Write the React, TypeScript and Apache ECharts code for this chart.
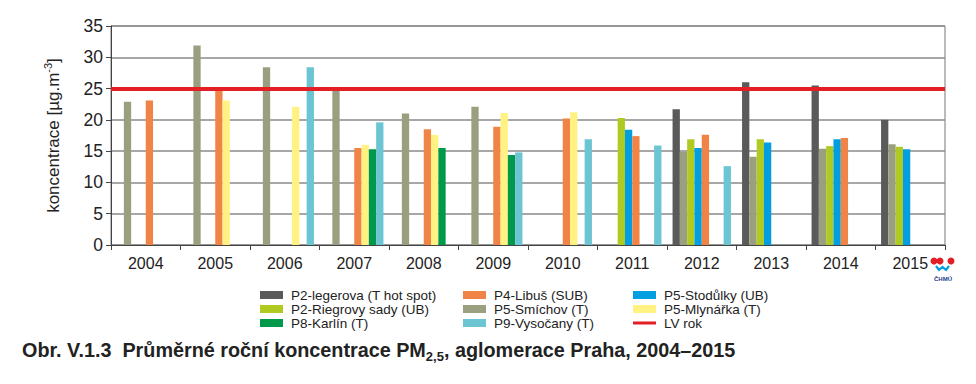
import React, { useEffect, useRef } from "react";
import * as echarts from "echarts";

const years = ["2004", "2005", "2006", "2007", "2008", "2009", "2010", "2011", "2012", "2013", "2014", "2015"];

const legerova = [null, null, null, null, null, null, null, null, 21.7, 26.0, 25.5, 20.0];
const smichov = [22.9, 31.9, 28.4, 24.6, 21.0, 22.1, null, null, 14.9, 14.1, 15.4, 16.1];
const riegrovy = [null, null, null, null, null, null, null, 20.3, 16.9, 16.9, 15.8, 15.7];
const stodulky = [null, null, null, null, null, null, null, 18.4, 15.5, 16.4, 16.9, 15.3];
const libus = [23.1, 24.6, null, 15.5, 18.5, 18.9, 20.2, 17.4, 17.6, null, 17.1, null];
const mlynarka = [null, 23.1, 22.1, 16.0, 17.6, 21.1, 21.2, null, null, null, null, null];
const karlin = [null, null, null, 15.3, 15.5, 14.4, null, null, null, null, null, null];
const vysocany = [null, null, 28.4, 19.6, null, 14.8, 16.9, 15.9, 12.6, null, null, null];
const limitValue = 25;

const seriesDefs = [
  { name: "P2-legerova (T hot spot)", data: legerova, color: "#5a5a5a" },
  { name: "P5-Smíchov (T)", data: smichov, color: "#9aa07f" },
  { name: "P2-Riegrovy sady (UB)", data: riegrovy, color: "#b1ca22" },
  { name: "P5-Stodůlky (UB)", data: stodulky, color: "#019fe0" },
  { name: "P4-Libuš (SUB)", data: libus, color: "#f08446" },
  { name: "P5-Mlynářka (T)", data: mlynarka, color: "#fff283" },
  { name: "P8-Karlín (T)", data: karlin, color: "#00994b" },
  { name: "P9-Vysočany (T)", data: vysocany, color: "#6bc5d2" },
];

const legendCols = [
  ["P2-legerova (T hot spot)", "P2-Riegrovy sady (UB)", "P8-Karlín (T)"],
  ["P4-Libuš (SUB)", "P5-Smíchov (T)", "P9-Vysočany (T)"],
  ["P5-Stodůlky (UB)", "P5-Mlynářka (T)", "LV rok"],
];
const legendLefts = [260, 463, 633];

const FONT = "Liberation Sans, Arial, sans-serif";

export default function App() {
  const ref = useRef<HTMLDivElement>(null);
  useEffect(() => {
    if (!ref.current) return;
    const chart = echarts.init(ref.current, null, { renderer: "svg" });
    const series: any[] = seriesDefs.map((s) => ({
      name: s.name,
      type: "bar",
      data: s.data,
      barGap: "0%",
      barCategoryGap: "16%",
      itemStyle: { color: s.color },
    }));
    series.push({
      name: "LV rok",
      type: "line",
      data: [],
      color: "#e31e24",
      itemStyle: { color: "#e31e24" },
      markLine: {
        silent: true,
        symbol: "none",
        label: { show: false },
        lineStyle: { color: "#e31e24", width: 4, type: "solid" },
        data: [{ yAxis: limitValue }],
      },
    });
    const legends = legendCols.map((col, i) => ({
      orient: "vertical",
      left: legendLefts[i],
      top: 288,
      padding: 0,
      itemGap: 0,
      itemWidth: 23,
      itemHeight: 8,
      data: col.map((n) =>
        n === "LV rok" ? { name: n, icon: "path://M0 0H23V3H0Z" } : { name: n, icon: "rect" }
      ),
      textStyle: { fontFamily: FONT, fontSize: 13.5, color: "#222", lineHeight: 14, padding: [0, 0, 0, 3] },
    }));
    chart.setOption({
      animation: false,
      textStyle: { fontFamily: FONT },
      title: {
        left: 22,
        top: 337,
        padding: 0,
        text: "{b|Obr. V.1.3  Průměrné roční koncentrace PM}{s|2,5}{b|, aglomerace Praha, 2004–2015}",
        textStyle: {
          rich: {
            b: { fontFamily: FONT, fontSize: 19.8, fontWeight: "bold", color: "#222", lineHeight: 26 },
            s: { fontFamily: FONT, fontSize: 13, fontWeight: "bold", color: "#222", verticalAlign: "bottom", lineHeight: 17 },
          },
        },
      },
      legend: legends,
      grid: {
        left: 111,
        right: 31,
        top: 26,
        bottom: 139,
        show: true,
        borderColor: "#777",
        borderWidth: 1,
      },
      xAxis: {
        type: "category",
        data: years,
        axisLine: { lineStyle: { color: "#444", width: 1 } },
        axisTick: { show: true, length: 5, lineStyle: { color: "#444" } },
        axisLabel: { fontSize: 16, color: "#222", margin: 10, fontFamily: FONT },
      },
      yAxis: {
        type: "value",
        min: 0,
        max: 35,
        interval: 5,
        name: "koncentrace [µg.m{sup|-3}]",
        nameLocation: "middle",
        nameGap: 47,
        nameTextStyle: {
          fontSize: 17,
          color: "#222",
          fontFamily: FONT,
          rich: {
            sup: { fontSize: 11, color: "#222", fontFamily: FONT, verticalAlign: "top", lineHeight: 22 },
          },
        },
        axisLine: { show: true, lineStyle: { color: "#444", width: 1 } },
        axisTick: { show: true, length: 5, lineStyle: { color: "#444" } },
        axisLabel: { fontSize: 17.5, color: "#222", margin: 8, fontFamily: FONT },
        splitLine: { lineStyle: { color: "#8a8a8a", width: 1.5 } },
      },
      graphic: [
        { type: "circle", shape: { cx: 934, cy: 261, r: 3.5 }, style: { fill: "#e31e24" } },
        { type: "circle", shape: { cx: 940, cy: 261, r: 3.5 }, style: { fill: "#e31e24" } },
        { type: "circle", shape: { cx: 951, cy: 261, r: 3.5 }, style: { fill: "#e31e24" } },
        {
          type: "polyline",
          shape: { points: [[936, 266], [939, 270], [942.5, 267], [946, 270], [949, 266]] },
          style: { stroke: "#019fe0", lineWidth: 2.2, fill: null },
        },
        {
          type: "text",
          x: 943,
          y: 276,
          style: { text: "ČHMÚ", fontSize: 6, fontWeight: "bold", fill: "#1a3a8a", textAlign: "center", fontFamily: FONT },
        },
      ],
      series,
    });
    return () => chart.dispose();
  }, []);
  return (
    <div
      ref={ref}
      style={{ position: "absolute", left: 0, top: 0, width: 976, height: 384 }}
    />
  );
}
